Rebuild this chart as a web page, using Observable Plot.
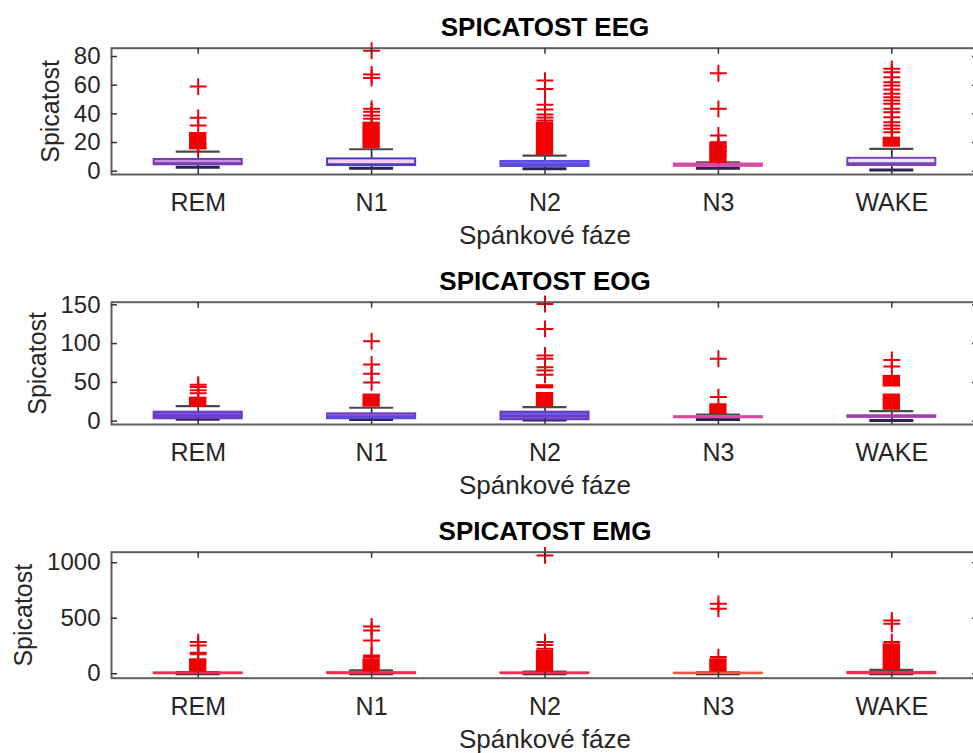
<!DOCTYPE html>
<html>
<head>
<meta charset="utf-8">
<script src="https://cdn.jsdelivr.net/npm/d3@7"></script>
<script src="https://cdn.jsdelivr.net/npm/@observablehq/plot@0.6"></script>
<style>
  html, body { margin: 0; padding: 0; background: #fff; overflow: hidden; }
  #chart { width: 973px; height: 753px; overflow: hidden; }
  #chart svg { display: block; max-width: none !important; }
</style>
</head>
<body>
<div id="chart"></div>
<script>
// Sleep stages on the x axis
const stages = ["REM", "N1", "N2", "N3", "WAKE"];

// --- EEG kurtosis ---
const eegTicks = [0, 20, 40, 60, 80];
const eegQ1 = [4.5, 4.0, 3.3, 3.4, 4.0];
const eegMed = [5.6, 4.8, 4.9, 4.2, 5.6];
const eegQ3 = [8.2, 8.6, 6.8, 5.0, 9.0];
const eegLo = [2.8, 2.1, 1.7, 2.0, 0.8];
const eegHi = [13.7, 15.3, 10.9, 6.2, 15.6];
const eegDense = [[[15, 27]], [[15.6, 34.2]], [[11, 34.2]], [[5.5, 20.2]], [[16.7, 23.7]]];
const eegOut = [
  [16, 19.2, 31.9, 37.2, 59],
  [36.6, 38.8, 41.5, 43.5, 65, 67.5, 84],
  [35.4, 37.5, 39.6, 43, 46.3, 57.4, 63.2],
  [11, 14, 17, 20.2, 24.9, 43.5, 68.3],
  [27.2, 29.6, 31.9, 34.2, 37.7, 41.1, 43.5, 47, 49.3, 51.6, 54, 57, 59.8, 62, 65.5, 69, 71.4]
];

// --- EOG kurtosis ---
const eogTicks = [0, 50, 100, 150];
const eogQ1 = [3.1, 3.1, 1.8, 4.6, 5.0];
const eogMed = [7.0, 6.0, 6.5, 5.2, 6.0];
const eogQ3 = [11.6, 9.5, 11.6, 5.8, 7.0];
const eogLo = [2.5, 2.0, 1.5, 2.2, 1.0];
const eogHi = [19.3, 17.3, 18.0, 8.6, 12.9];
const eogDense = [[[18, 31]], [[18, 35]], [[18, 37], [41.7, 47]], [[8.6, 22.4]], [[14, 35], [44, 59]]];
const eogOut = [
  [36, 40, 44, 46.9],
  [50, 61, 73, 103],
  [59.8, 65.3, 69.6, 80.4, 84.7, 119, 151],
  [31, 80.4],
  [70.5, 79]
];

// --- EMG kurtosis ---
const emgTicks = [0, 500, 1000];
const emgQ1 = [2, 2, 2, 2, 2];
const emgMed = [5, 5, 5, 5, 5];
const emgQ3 = [8, 10, 8, 6, 12];
const emgLo = [0, 0, 0, 0, 0];
const emgHi = [14, 30, 20, 12, 35];
const emgDense = [[[15, 135]], [[15, 135]], [[15, 210]], [[15, 135]], [[30, 270]]];
const emgOut = [
  [175, 190, 255, 285],
  [150, 165, 300, 390, 426],
  [225, 260, 285, 1066],
  [150, 585, 630],
  [285, 450, 480]
];

// Box colours per stage
const eegFill = ["#c98ee8", "#f6cdf3", "#7b62e8", "#d84aa8", "#efe3fa"];
const eegStroke = ["#7a3db0", "#4b3fbf", "#5a4ee0", "#d84aa8", "#7a45b0"];
const eogFill = ["#6b5ae6", "#c84ab8", "#6a5ae6", "#d84aa0", "#a040b0"];
const eogStroke = ["#6a3ac0", "#5a48d8", "#6a3ac0", "#d84aa0", "#a040b0"];
const emgFill = ["#ef3a5a", "#ef3a5a", "#ef3a5a", "#f05a40", "#ef3a5a"];
const emgStroke = ["#e8304f", "#e8304f", "#e8304f", "#f05a40", "#e8304f"];

const FONT = "'Liberation Sans', Arial, Helvetica, sans-serif";
const WIDTH = 978, LEFT = 111;

function panel(o) {
  const boxes = stages.map((s, i) => ({
    pos: i + 1, q1: o.q1[i], med: o.med[i], q3: o.q3[i], lo: o.lo[i], hi: o.hi[i],
    fill: o.fill[i], stroke: o.stroke[i]
  }));
  const denseRows = o.dense.flatMap((bands, i) => bands.map(([a, b]) => ({pos: i + 1, a, b})));
  const outRows = o.out.flatMap((vals, i) => vals.map(v => ({pos: i + 1, v})));
  const positions = stages.map((s, i) => i + 1);
  const BOX = 0.254, CAP = 0.127, DENSE = 0.05;
  const innerW = WIDTH - LEFT;
  const innerH = o.height - o.marginTop - o.marginBottom;
  return Plot.plot({
    width: WIDTH, height: o.height,
    marginLeft: LEFT, marginRight: 0, marginTop: o.marginTop, marginBottom: o.marginBottom,
    style: {fontFamily: FONT, fontSize: "24px", color: "#262626", background: "white", maxWidth: "none", overflow: "visible"},
    x: {domain: [0.5, 5.5]},
    y: {domain: o.yDomain},
    color: {type: "identity"},
    marks: [
      Plot.axisX({ticks: positions, tickFormat: i => stages[i - 1], tickSize: 0, tickPadding: 19, label: null, fontSize: 25}),
      Plot.axisY({ticks: o.ticks, tickFormat: d => String(d), tickSize: 0, tickPadding: 11, label: null}),
      // whiskers
      Plot.ruleX(boxes, {x: "pos", y1: "q3", y2: "hi", stroke: "#222", strokeWidth: 1.6}),
      Plot.ruleX(boxes, {x: "pos", y1: "lo", y2: "q1", stroke: "#222", strokeWidth: 1.6}),
      // whisker caps
      Plot.ruleY(boxes, {y: "hi", x1: d => d.pos - CAP, x2: d => d.pos + CAP, stroke: "#4a4a4a", strokeWidth: 2.2}),
      Plot.ruleY(boxes, {y: "lo", x1: d => d.pos - CAP, x2: d => d.pos + CAP, stroke: "#2a2250", strokeWidth: 3}),
      // boxes
      Plot.rect(boxes, {x1: d => d.pos - BOX, x2: d => d.pos + BOX, y1: "q1", y2: "q3", fill: "fill", stroke: "stroke", strokeWidth: 2}),
      Plot.ruleY(boxes, {y: "med", x1: d => d.pos - BOX, x2: d => d.pos + BOX, stroke: "stroke", strokeWidth: 2}),
      // densely packed outliers
      Plot.rect(denseRows, {x1: d => d.pos - DENSE, x2: d => d.pos + DENSE, y1: "a", y2: "b", fill: "#f20000"}),
      Plot.dot(outRows, {x: "pos", y: "v", symbol: "plus", r: 5.5, stroke: "#e8000c", strokeWidth: 2}),
      // frame and inward tick marks
      Plot.frame({stroke: "#5e5e5e", strokeWidth: 2}),
      Plot.tickY(o.ticks, {y: d => d, insetRight: innerW - 6, stroke: "#333", strokeWidth: 1.5}),
      Plot.tickY(o.ticks, {y: d => d, insetLeft: innerW - 6, stroke: "#333", strokeWidth: 1.5}),
      Plot.tickX(positions, {x: d => d, insetBottom: innerH - 6, stroke: "#333", strokeWidth: 1.5}),
      Plot.tickX(positions, {x: d => d, insetTop: innerH - 6, stroke: "#333", strokeWidth: 1.5}),
      // titles and axis labels
      Plot.text([o.title], {frameAnchor: "top", lineAnchor: "middle", dy: -21, text: d => d, fontWeight: "bold", fontSize: 26, fill: "#000"}),
      Plot.text(["Spánkové fáze"], {frameAnchor: "bottom", lineAnchor: "middle", dy: 61, text: d => d, fontSize: 26, fill: "#262626"}),
      Plot.text(["Spicatost"], {frameAnchor: "left", textAnchor: "middle", lineAnchor: "middle", dx: o.yLabelDx, rotate: -90, text: d => d, fontSize: 25, fill: "#262626"})
    ]
  });
}

const chart = document.getElementById("chart");
chart.append(panel({
  title: "SPICATOST EEG", height: 250, marginTop: 47.7, marginBottom: 76,
  yDomain: [-2.3, 85.8], ticks: eegTicks, yLabelDx: -61,
  q1: eegQ1, med: eegMed, q3: eegQ3, lo: eegLo, hi: eegHi, dense: eegDense, out: eegOut,
  fill: eegFill, stroke: eegStroke
}));
chart.append(panel({
  title: "SPICATOST EOG", height: 250, marginTop: 51.7, marginBottom: 76,
  yDomain: [-4.3, 153.4], ticks: eogTicks, yLabelDx: -74,
  q1: eogQ1, med: eogMed, q3: eogQ3, lo: eogLo, hi: eogHi, dense: eogDense, out: eogOut,
  fill: eogFill, stroke: eogStroke
}));
chart.append(panel({
  title: "SPICATOST EMG", height: 253, marginTop: 51.7, marginBottom: 75.3,
  yDomain: [-40, 1095], ticks: emgTicks, yLabelDx: -88,
  q1: emgQ1, med: emgMed, q3: emgQ3, lo: emgLo, hi: emgHi, dense: emgDense, out: emgOut,
  fill: emgFill, stroke: emgStroke
}));
</script>
</body>
</html>
